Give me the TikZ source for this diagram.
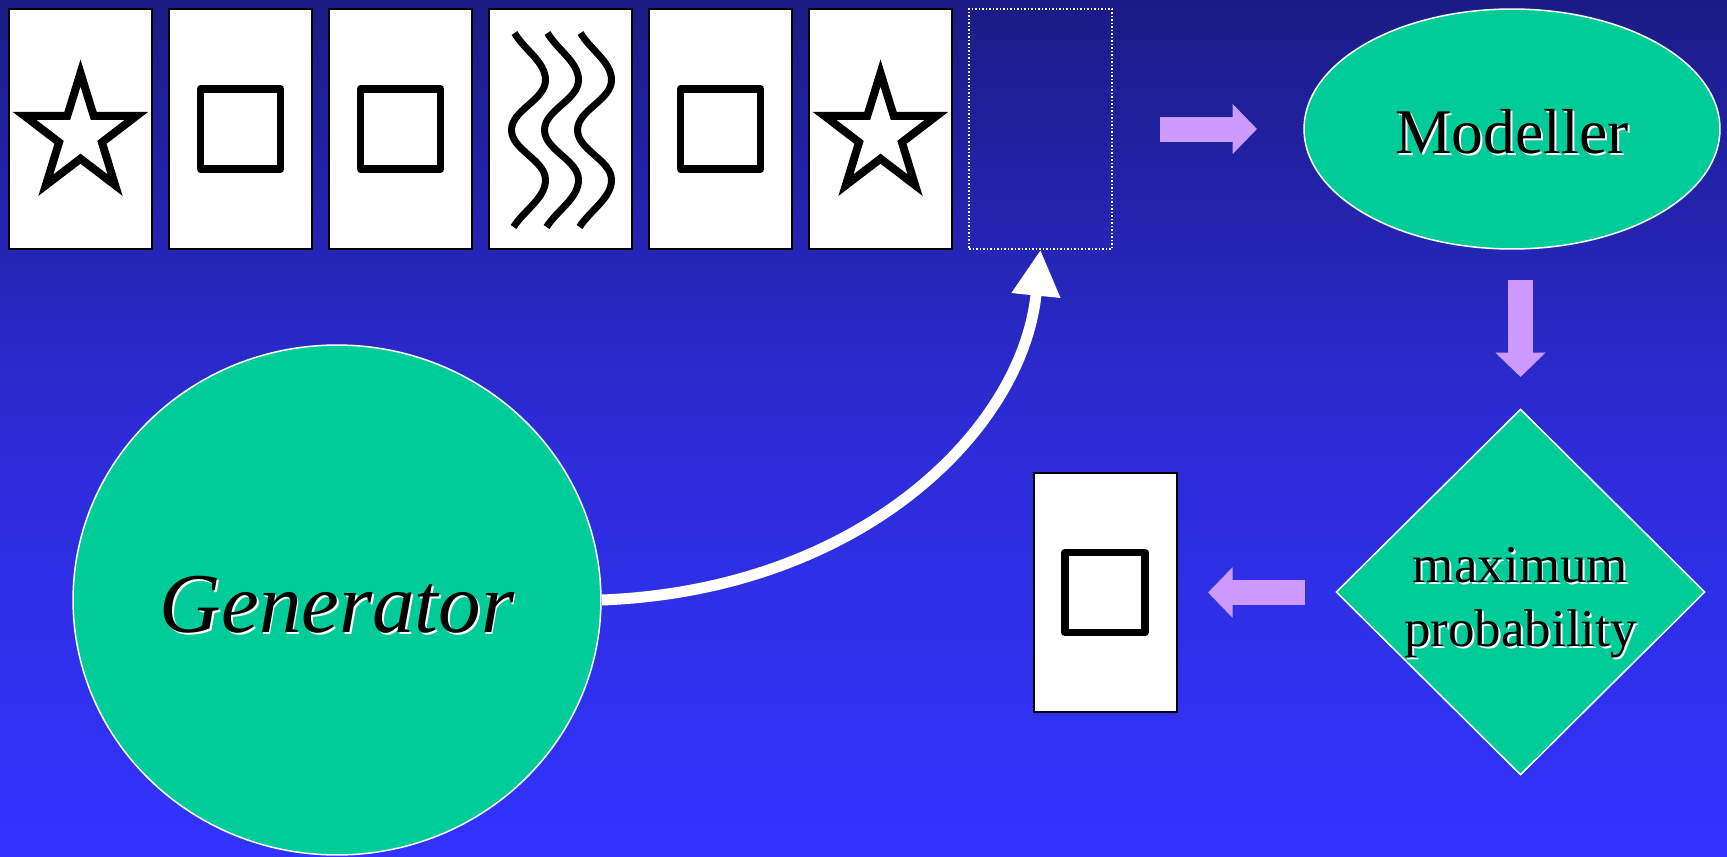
\documentclass[tikz,border=0pt]{standalone}
\usepackage{fontspec}
\setmainfont{Liberation Serif}
\usetikzlibrary{shapes.geometric,arrows.meta}

\definecolor{bgtop}{RGB}{27,27,133}
\definecolor{bgmid}{RGB}{44,44,214}
\definecolor{bgbot}{RGB}{51,51,255}
\definecolor{blobgreen}{RGB}{0,204,153}
\definecolor{lilac}{RGB}{204,153,255}

% black text with a white copy behind it, lowered by the optional amount
\newcommand\shadowtext[2][0pt]{\raisebox{-#1}[\height][\depth]{%
  \rlap{\kern1.1pt\raisebox{-1.1pt}{\color{white}#2}}#2}}

\tikzset{
  card/.style={rectangle, draw=black, line width=0.04cm, fill=white,
    minimum width=2.86cm, minimum height=4.8cm, inner sep=0pt},
  slotcard/.style={rectangle, draw=white, line width=0.03cm,
    dash pattern=on 0.035cm off 0.035cm,
    minimum width=2.86cm, minimum height=4.8cm, inner sep=0pt},
  blob/.style={fill=blobgreen, draw=white, line width=0.03cm, inner sep=0pt},
  symline/.style={draw=black, line width=0.16cm},
  fatarrow/.style={lilac, line width=0.5cm,
    -{Triangle[length=0.49cm, width=0.98cm]}},
  starmark/.pic={
    \draw[symline, line join=miter, shift={(0,6)}, xscale=0.95]
      (90:1.24cm) -- (126:0.474cm) -- (162:1.24cm) -- (198:0.474cm)
      -- (234:1.24cm) -- (270:0.474cm) -- (306:1.24cm) -- (342:0.474cm)
      -- (18:1.24cm) -- (54:0.474cm) -- cycle;
  },
  squaremark/.pic={
    \draw[symline, line width=0.15cm, line join=round] (-40,-40) rectangle (40,40);
  },
  wavemark/.pic={
    \foreach \dx in {-32,1,34}
      \draw[symline, line width=0.14cm]
        (\dx-14,-96) .. controls (\dx-4,-79) and (\dx+17,-67) .. (\dx+17,-49)
        .. controls (\dx+17,-29) and (\dx-17,-19) .. (\dx-17,1)
        .. controls (\dx-17,21) and (\dx+17,31) .. (\dx+17,51)
        .. controls (\dx+17,69) and (\dx-4,81) .. (\dx-15,98);
  }
}

\begin{document}
\begin{tikzpicture}[x=0.02cm, y=-0.02cm]
  % background
  \shade[top color=bgtop, bottom color=bgbot, middle color=bgmid] (0,0) rectangle (1727,856);
  \useasboundingbox (0,0) rectangle (1727,856);

  % row of cards
  \foreach \i in {1,...,6}
    \node[card] (c\i) at ({160*\i-79.5},129) {};
  \pic at (c1) {starmark};
  \pic at (c2) {squaremark};
  \pic at (c3) {squaremark};
  \pic at (c4) {wavemark};
  \pic at (c5) {squaremark};
  \pic at (c6) {starmark};

  % empty place for the next card
  \node[slotcard] (slot) at (1040.5,129) {};

  % Modeller
  \node[blob, ellipse, minimum width=8.32cm, minimum height=4.8cm,
    font=\fontsize{36.2pt}{43pt}\selectfont] (modeller) at (1512,129)
    {\shadowtext[0.07cm]{Modeller}};

  % maximum probability
  \node[blob, diamond, minimum width=7.38cm, minimum height=7.32cm, align=center,
    font=\fontsize{30.2pt}{36.4pt}\selectfont] (prob) at (1520.5,592)
    {\shadowtext[0.24cm]{maximum}\\\shadowtext[0.24cm]{probability}};

  % chosen card
  \node[card] (res) at (1105,592.5) {};
  \pic at (res) {squaremark};

  % Generator
  \node[blob, ellipse, minimum width=10.56cm, minimum height=10.2cm,
    font=\itshape\fontsize{48.4pt}{58pt}\selectfont] (gen) at (337,600)
    {\shadowtext[0.11cm]{Generator}};

  % block arrows
  \coordinate (mIn) at (1160,129);
  \coordinate (mOut) at (1257,129);
  \coordinate (pIn) at (1520.5,280);
  \coordinate (pOut) at (1520.5,377);
  \coordinate (rIn) at (1305,592.5);
  \coordinate (rOut) at (1208,592.5);
  \draw[fatarrow] (mIn) -- (mOut);
  \draw[fatarrow] (pIn) -- (pOut);
  \draw[fatarrow] (rIn) -- (rOut);

  % Generator to the empty place
  \draw[white, line width=0.22cm, -{Triangle[length=0.92cm, width=0.92cm]}]
    (gen.east) .. controls +(258,-10) and +(-18,181) .. (slot.south);
\end{tikzpicture}
\end{document}
